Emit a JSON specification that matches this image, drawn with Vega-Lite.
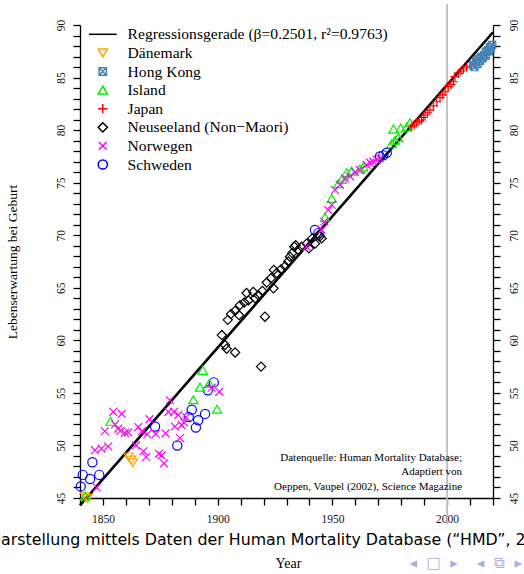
{
  "$schema": "https://vega.github.io/schema/vega-lite/v6.json",
  "width": 413,
  "height": 473,
  "autosize": {"type": "none"},
  "padding": {"left": 80, "top": 25, "right": 31, "bottom": 76},
  "background": "white",
  "config": {
    "view": {"stroke": null},
    "axis": {"grid": false, "domainColor": "#000", "tickColor": "#000", "domainWidth": 1.3, "tickWidth": 1.3, "labelColor": "#111", "labelFont": "Liberation Serif", "labelFontSize": 11.5, "labelOverlap": false, "labelFlush": false, "tickSize": 7}
  },
  "resolve": {"axis": {"x": "independent", "y": "independent"}},
  "layer": [
    {
      "data": {"values": [{"year": 2000, "top": 92, "bottom": 42.5}]},
      "mark": {"type": "rule", "color": "#bebebe", "strokeWidth": 1.8, "clip": false},
      "encoding": {
        "x": {"field": "year", "type": "quantitative", "scale": {"domain": [1840, 2020], "nice": false, "zero": false},
          "axis": {"orient": "bottom", "values": [1840,1850,1860,1870,1880,1890,1900,1910,1920,1930,1940,1950,1960,1970,1980,1990,2000,2010,2020],
            "format": "d", "labelExpr": "datum.value % 50 === 0 ? datum.label : ''", "labelPadding": 8,
            "title": "Year", "titleFont": "Liberation Serif", "titleFontSize": 14, "titleFontWeight": "normal", "titleColor": "#000", "titleY": 65, "titleX": 208, "titleBaseline": "middle"}},
        "y": {"field": "top", "type": "quantitative", "scale": {"domain": [45, 90], "nice": false, "zero": false},
          "axis": {"orient": "right", "title": null, "values": [45,46,47,48,49,50,51,52,53,54,55,56,57,58,59,60,61,62,63,64,65,66,67,68,69,70,71,72,73,74,75,76,77,78,79,80,81,82,83,84,85,86,87,88,89,90],
            "labelExpr": "datum.value % 5 === 0 ? datum.label : ''", "labelAngle": 270, "labelAlign": "center", "labelBaseline": "top", "labelPadding": 8}},
        "y2": {"field": "bottom"}
      }
    },
    {
      "data": {"values": [{"year": 1840, "le": 44.29}, {"year": 2020, "le": 89.31}]},
      "mark": {"type": "line", "color": "#000", "strokeWidth": 2.6, "clip": false},
      "encoding": {
        "x": {"field": "year", "type": "quantitative", "scale": {"domain": [1840, 2020], "nice": false, "zero": false}, "axis": null},
        "y": {"field": "le", "type": "quantitative", "scale": {"domain": [45, 90], "nice": false, "zero": false}, "axis": null}
      }
    },
    {
      "data": {"values": [
        {"c": "Schweden", "year": 1840.3, "le": 46.1},
        {"c": "Schweden", "year": 1841.2, "le": 47.2},
        {"c": "Schweden", "year": 1844.4, "le": 46.8},
        {"c": "Schweden", "year": 1845.4, "le": 48.4},
        {"c": "Schweden", "year": 1848.4, "le": 47.2},
        {"c": "Schweden", "year": 1872.7, "le": 51.8},
        {"c": "Schweden", "year": 1882.4, "le": 50.0},
        {"c": "Schweden", "year": 1887.4, "le": 52.7},
        {"c": "Schweden", "year": 1888.7, "le": 53.4},
        {"c": "Schweden", "year": 1890.5, "le": 51.7},
        {"c": "Schweden", "year": 1891.5, "le": 52.4},
        {"c": "Schweden", "year": 1894.5, "le": 53.0},
        {"c": "Schweden", "year": 1895.7, "le": 55.25},
        {"c": "Schweden", "year": 1898.3, "le": 56.0},
        {"c": "Schweden", "year": 1942.4, "le": 70.5},
        {"c": "Schweden", "year": 1943.9, "le": 70.2},
        {"c": "Schweden", "year": 1970.7, "le": 77.5},
        {"c": "Schweden", "year": 1972.2, "le": 77.6},
        {"c": "Schweden", "year": 1973.7, "le": 77.85},
        {"c": "Dänemark", "year": 1842.2, "le": 45.1},
        {"c": "Dänemark", "year": 1843.3, "le": 44.95},
        {"c": "Dänemark", "year": 1861.1, "le": 48.9},
        {"c": "Dänemark", "year": 1862.3, "le": 48.6},
        {"c": "Dänemark", "year": 1863.0, "le": 48.35},
        {"c": "Island", "year": 1842.2, "le": 45.2},
        {"c": "Island", "year": 1853.3, "le": 52.3},
        {"c": "Island", "year": 1889.4, "le": 54.35},
        {"c": "Island", "year": 1892.3, "le": 55.55},
        {"c": "Island", "year": 1893.5, "le": 57.15},
        {"c": "Island", "year": 1896.3, "le": 55.9},
        {"c": "Island", "year": 1899.7, "le": 53.45},
        {"c": "Island", "year": 1946.8, "le": 71.7},
        {"c": "Island", "year": 1949.7, "le": 73.5},
        {"c": "Island", "year": 1952.6, "le": 74.9},
        {"c": "Island", "year": 1954.1, "le": 75.3},
        {"c": "Island", "year": 1956.2, "le": 75.95},
        {"c": "Island", "year": 1958.4, "le": 76.1},
        {"c": "Island", "year": 1962.0, "le": 76.3},
        {"c": "Island", "year": 1963.5, "le": 76.5},
        {"c": "Island", "year": 1975.8, "le": 78.7},
        {"c": "Island", "year": 1977.3, "le": 79.05},
        {"c": "Island", "year": 1976.6, "le": 80.1},
        {"c": "Island", "year": 1978.7, "le": 79.3},
        {"c": "Island", "year": 1979.8, "le": 80.2},
        {"c": "Island", "year": 1982.4, "le": 80.3},
        {"c": "Island", "year": 1983.8, "le": 80.7},
        {"c": "Norwegen", "year": 1847.3, "le": 46.0},
        {"c": "Norwegen", "year": 1846.5, "le": 49.55},
        {"c": "Norwegen", "year": 1849.4, "le": 49.7},
        {"c": "Norwegen", "year": 1852.3, "le": 49.9},
        {"c": "Norwegen", "year": 1850.8, "le": 51.35},
        {"c": "Norwegen", "year": 1854.5, "le": 53.2},
        {"c": "Norwegen", "year": 1858.2, "le": 53.0},
        {"c": "Norwegen", "year": 1855.3, "le": 52.0},
        {"c": "Norwegen", "year": 1856.7, "le": 51.6},
        {"c": "Norwegen", "year": 1857.6, "le": 51.4},
        {"c": "Norwegen", "year": 1859.6, "le": 51.2},
        {"c": "Norwegen", "year": 1861.0, "le": 51.25},
        {"c": "Norwegen", "year": 1864.4, "le": 50.0},
        {"c": "Norwegen", "year": 1865.4, "le": 51.75},
        {"c": "Norwegen", "year": 1866.9, "le": 51.35},
        {"c": "Norwegen", "year": 1867.6, "le": 49.45},
        {"c": "Norwegen", "year": 1868.8, "le": 48.9},
        {"c": "Norwegen", "year": 1869.3, "le": 51.05},
        {"c": "Norwegen", "year": 1870.3, "le": 52.5},
        {"c": "Norwegen", "year": 1873.0, "le": 51.1},
        {"c": "Norwegen", "year": 1874.4, "le": 49.2},
        {"c": "Norwegen", "year": 1875.6, "le": 49.05},
        {"c": "Norwegen", "year": 1876.6, "le": 48.3},
        {"c": "Norwegen", "year": 1877.3, "le": 51.15},
        {"c": "Norwegen", "year": 1879.2, "le": 54.3},
        {"c": "Norwegen", "year": 1878.5, "le": 53.2},
        {"c": "Norwegen", "year": 1881.0, "le": 53.2},
        {"c": "Norwegen", "year": 1881.4, "le": 51.8},
        {"c": "Norwegen", "year": 1882.8, "le": 52.9},
        {"c": "Norwegen", "year": 1883.6, "le": 50.7},
        {"c": "Norwegen", "year": 1884.3, "le": 51.95},
        {"c": "Norwegen", "year": 1885.3, "le": 52.2},
        {"c": "Norwegen", "year": 1886.2, "le": 52.7},
        {"c": "Norwegen", "year": 1897.4, "le": 55.5},
        {"c": "Norwegen", "year": 1900.7, "le": 55.1},
        {"c": "Neuseeland (Non−Maori)", "year": 1901.8, "le": 60.5},
        {"c": "Neuseeland (Non−Maori)", "year": 1903.2, "le": 59.55},
        {"c": "Neuseeland (Non−Maori)", "year": 1903.9, "le": 59.2},
        {"c": "Neuseeland (Non−Maori)", "year": 1904.4, "le": 61.95},
        {"c": "Neuseeland (Non−Maori)", "year": 1905.8, "le": 62.5},
        {"c": "Neuseeland (Non−Maori)", "year": 1907.6, "le": 58.85},
        {"c": "Neuseeland (Non−Maori)", "year": 1907.6, "le": 62.8},
        {"c": "Neuseeland (Non−Maori)", "year": 1909.3, "le": 62.4},
        {"c": "Neuseeland (Non−Maori)", "year": 1909.7, "le": 63.35},
        {"c": "Neuseeland (Non−Maori)", "year": 1911.6, "le": 63.6},
        {"c": "Neuseeland (Non−Maori)", "year": 1912.6, "le": 64.5},
        {"c": "Neuseeland (Non−Maori)", "year": 1913.4, "le": 63.8},
        {"c": "Neuseeland (Non−Maori)", "year": 1915.5, "le": 64.6},
        {"c": "Neuseeland (Non−Maori)", "year": 1916.3, "le": 64.0},
        {"c": "Neuseeland (Non−Maori)", "year": 1917.7, "le": 64.3},
        {"c": "Neuseeland (Non−Maori)", "year": 1918.9, "le": 57.5},
        {"c": "Neuseeland (Non−Maori)", "year": 1919.5, "le": 64.7},
        {"c": "Neuseeland (Non−Maori)", "year": 1920.6, "le": 62.25},
        {"c": "Neuseeland (Non−Maori)", "year": 1921.4, "le": 65.5},
        {"c": "Neuseeland (Non−Maori)", "year": 1923.2, "le": 65.9},
        {"c": "Neuseeland (Non−Maori)", "year": 1924.3, "le": 64.95},
        {"c": "Neuseeland (Non−Maori)", "year": 1924.5, "le": 66.7},
        {"c": "Neuseeland (Non−Maori)", "year": 1925.7, "le": 66.4},
        {"c": "Neuseeland (Non−Maori)", "year": 1927.6, "le": 66.75},
        {"c": "Neuseeland (Non−Maori)", "year": 1929.4, "le": 67.05},
        {"c": "Neuseeland (Non−Maori)", "year": 1930.8, "le": 67.5},
        {"c": "Neuseeland (Non−Maori)", "year": 1931.5, "le": 67.95},
        {"c": "Neuseeland (Non−Maori)", "year": 1932.5, "le": 68.3},
        {"c": "Neuseeland (Non−Maori)", "year": 1933.4, "le": 68.9},
        {"c": "Neuseeland (Non−Maori)", "year": 1934.0, "le": 69.05},
        {"c": "Neuseeland (Non−Maori)", "year": 1935.1, "le": 68.6},
        {"c": "Neuseeland (Non−Maori)", "year": 1936.6, "le": 68.9},
        {"c": "Neuseeland (Non−Maori)", "year": 1938.8, "le": 69.2},
        {"c": "Neuseeland (Non−Maori)", "year": 1939.8, "le": 68.75},
        {"c": "Neuseeland (Non−Maori)", "year": 1941.2, "le": 69.7},
        {"c": "Neuseeland (Non−Maori)", "year": 1942.4, "le": 69.2},
        {"c": "Neuseeland (Non−Maori)", "year": 1943.9, "le": 70.0},
        {"c": "Neuseeland (Non−Maori)", "year": 1944.6, "le": 69.9},
        {"c": "Neuseeland (Non−Maori)", "year": 1945.3, "le": 69.7},
        {"c": "Norwegen", "year": 1938.8, "le": 68.9},
        {"c": "Norwegen", "year": 1945.3, "le": 70.5},
        {"c": "Norwegen", "year": 1946.5, "le": 71.3},
        {"c": "Norwegen", "year": 1948.2, "le": 72.4},
        {"c": "Norwegen", "year": 1949.7, "le": 72.9},
        {"c": "Norwegen", "year": 1951.1, "le": 74.3},
        {"c": "Norwegen", "year": 1953.3, "le": 74.8},
        {"c": "Norwegen", "year": 1955.5, "le": 75.4},
        {"c": "Norwegen", "year": 1957.7, "le": 75.6},
        {"c": "Norwegen", "year": 1959.9, "le": 76.0},
        {"c": "Norwegen", "year": 1962.0, "le": 76.2},
        {"c": "Norwegen", "year": 1964.9, "le": 76.7},
        {"c": "Norwegen", "year": 1966.4, "le": 76.9},
        {"c": "Norwegen", "year": 1967.8, "le": 77.0},
        {"c": "Norwegen", "year": 1969.3, "le": 77.2},
        {"c": "Norwegen", "year": 1970.7, "le": 77.3},
        {"c": "Japan", "year": 1984.6, "le": 80.32},
        {"c": "Japan", "year": 1985.6, "le": 80.5},
        {"c": "Japan", "year": 1986.7, "le": 80.7},
        {"c": "Japan", "year": 1987.8, "le": 80.85},
        {"c": "Japan", "year": 1988.9, "le": 80.96},
        {"c": "Japan", "year": 1989.6, "le": 81.2},
        {"c": "Japan", "year": 1990.4, "le": 81.44},
        {"c": "Japan", "year": 1991.5, "le": 81.65},
        {"c": "Japan", "year": 1992.5, "le": 81.9},
        {"c": "Japan", "year": 1994.0, "le": 82.3},
        {"c": "Japan", "year": 1995.5, "le": 82.7},
        {"c": "Japan", "year": 1996.9, "le": 83.1},
        {"c": "Japan", "year": 1998.0, "le": 83.35},
        {"c": "Japan", "year": 1999.1, "le": 83.65},
        {"c": "Japan", "year": 2000.5, "le": 84.13},
        {"c": "Japan", "year": 2001.6, "le": 84.35},
        {"c": "Japan", "year": 2002.7, "le": 84.6},
        {"c": "Japan", "year": 2003.4, "le": 85.1},
        {"c": "Japan", "year": 2004.9, "le": 85.4},
        {"c": "Japan", "year": 2006.0, "le": 85.6},
        {"c": "Japan", "year": 2007.1, "le": 85.8},
        {"c": "Japan", "year": 2008.5, "le": 86.0},
        {"c": "Japan", "year": 2010.7, "le": 86.1},
        {"c": "Japan", "year": 2012.2, "le": 86.35},
        {"c": "Hong Kong", "year": 2011.3, "le": 86.2},
        {"c": "Hong Kong", "year": 2011.9, "le": 86.0},
        {"c": "Hong Kong", "year": 2012.6, "le": 86.5},
        {"c": "Hong Kong", "year": 2013.2, "le": 86.3},
        {"c": "Hong Kong", "year": 2013.5, "le": 86.75},
        {"c": "Hong Kong", "year": 2014.3, "le": 86.6},
        {"c": "Hong Kong", "year": 2014.8, "le": 86.95},
        {"c": "Hong Kong", "year": 2015.5, "le": 86.85},
        {"c": "Hong Kong", "year": 2016.1, "le": 87.15},
        {"c": "Hong Kong", "year": 2016.8, "le": 87.1},
        {"c": "Hong Kong", "year": 2017.0, "le": 87.45},
        {"c": "Hong Kong", "year": 2017.8, "le": 87.6},
        {"c": "Hong Kong", "year": 2018.2, "le": 87.5},
        {"c": "Hong Kong", "year": 2018.7, "le": 87.9},
        {"c": "Hong Kong", "year": 2019.0, "le": 87.75},
        {"c": "Hong Kong", "year": 2019.6, "le": 88.1}
      ]},
      "mark": {"type": "point", "filled": false, "size": 85, "strokeWidth": 1.2, "clip": false, "opacity": 1},
      "encoding": {
        "x": {"field": "year", "type": "quantitative", "scale": {"domain": [1840, 2020], "nice": false, "zero": false}, "axis": null},
        "y": {"field": "le", "type": "quantitative", "scale": {"domain": [45, 90], "nice": false, "zero": false},
          "axis": {"orient": "left", "values": [45,46,47,48,49,50,51,52,53,54,55,56,57,58,59,60,61,62,63,64,65,66,67,68,69,70,71,72,73,74,75,76,77,78,79,80,81,82,83,84,85,86,87,88,89,90],
            "labelExpr": "datum.value % 5 === 0 ? datum.label : ''", "labelAngle": 270, "labelAlign": "center", "labelBaseline": "bottom", "labelPadding": 7,
            "title": "Lebenserwartung bei Geburt", "titleFont": "Liberation Serif", "titleFontSize": 13.5, "titleFontWeight": "normal", "titleColor": "#000",
            "titleX": -68, "titleY": 236.5, "titleAngle": 270, "titleAlign": "center", "titleBaseline": "middle"}},
        "shape": {"field": "c", "type": "nominal",
          "scale": {"domain": ["Regressionsgerade (β=0.2501, r²=0.9763)", "Dänemark", "Hong Kong", "Island", "Japan", "Neuseeland (Non−Maori)", "Norwegen", "Schweden"],
            "range": ["M-3,0L3,0", "triangle-down", "M-0.8,-0.8L0.8,-0.8L0.8,0.8L-0.8,0.8ZM-0.8,-0.8L0.8,0.8M-0.8,0.8L0.8,-0.8", "triangle-up", "M-1,0L1,0M0,-1L0,1", "diamond", "M-0.85,-0.85L0.85,0.85M-0.85,0.85L0.85,-0.85", "circle"]},
          "legend": {"title": null, "orient": "none", "legendX": 15, "legendY": 1.5, "padding": 0, "symbolSize": 85, "labelFont": "Liberation Serif", "labelFontSize": 15.6, "labelColor": "#000", "labelOffset": 17, "rowPadding": 1.6, "labelLimit": 400,
            "encode": {"symbols": {"update": {"strokeWidth": {"signal": "datum.index === 0 ? 2.6 : 1.3"}}}}}},
        "color": {"field": "c", "type": "nominal",
          "scale": {"domain": ["Regressionsgerade (β=0.2501, r²=0.9763)", "Dänemark", "Hong Kong", "Island", "Japan", "Neuseeland (Non−Maori)", "Norwegen", "Schweden"],
            "range": ["#000000", "#FFA500", "#4682B4", "#00EE00", "#FF0000", "#000000", "#FF00FF", "#0000FF"]},
          "legend": {"title": null, "orient": "none", "legendX": 15, "legendY": 1.5, "padding": 0, "symbolSize": 85, "labelFont": "Liberation Serif", "labelFontSize": 15.6, "labelColor": "#000", "labelOffset": 17, "rowPadding": 1.6, "labelLimit": 400,
            "encode": {"symbols": {"update": {"strokeWidth": {"signal": "datum.index === 0 ? 2.6 : 1.3"}}}}}}
      }
    },
    {
      "data": {"values": [{"note": "Quelle"}]},
      "mark": {"type": "text", "align": "right", "baseline": "middle", "font": "Liberation Serif", "fontSize": 11, "color": "#000", "lineHeight": 14.3, "clip": false},
      "encoding": {
        "x": {"datum": 2006.5, "type": "quantitative", "scale": {"domain": [1840, 2020], "nice": false, "zero": false}, "axis": null},
        "y": {"datum": 48.8, "type": "quantitative", "scale": {"domain": [45, 90], "nice": false, "zero": false}, "axis": null},
        "text": {"value": ["Datenquelle: Human Mortality Database;", "Adaptiert von", "Oeppen, Vaupel (2002), Science Magazine"]}
      }
    },
    {
      "data": {"values": [{"note": "Fuss"}]},
      "mark": {"type": "text", "align": "left", "baseline": "middle", "font": "DejaVu Sans", "fontSize": 15.8, "color": "#000", "clip": false},
      "encoding": {
        "x": {"datum": 1805.6, "type": "quantitative", "scale": {"domain": [1840, 2020], "nice": false, "zero": false}, "axis": null},
        "y": {"datum": 41.0, "type": "quantitative", "scale": {"domain": [45, 90], "nice": false, "zero": false}, "axis": null},
        "text": {"value": "arstellung mittels Daten der Human Mortality Database (“HMD”, 2"}
      }
    },
    {
      "data": {"values": [{"note": "Navigation"}]},
      "mark": {"type": "text", "align": "left", "baseline": "middle", "font": "DejaVu Sans", "fontSize": 15, "color": "#adade0", "clip": false},
      "encoding": {
        "x": {"datum": 1983.6, "type": "quantitative", "scale": {"domain": [1840, 2020], "nice": false, "zero": false}, "axis": null},
        "y": {"datum": 38.8, "type": "quantitative", "scale": {"domain": [45, 90], "nice": false, "zero": false}, "axis": null},
        "text": {"value": "◂\u00a0\u00a0□\u00a0\u00a0▸\u00a0\u00a0\u00a0\u00a0◂\u00a0\u00a0⧉\u00a0\u00a0▸"}
      }
    }
  ]
}
